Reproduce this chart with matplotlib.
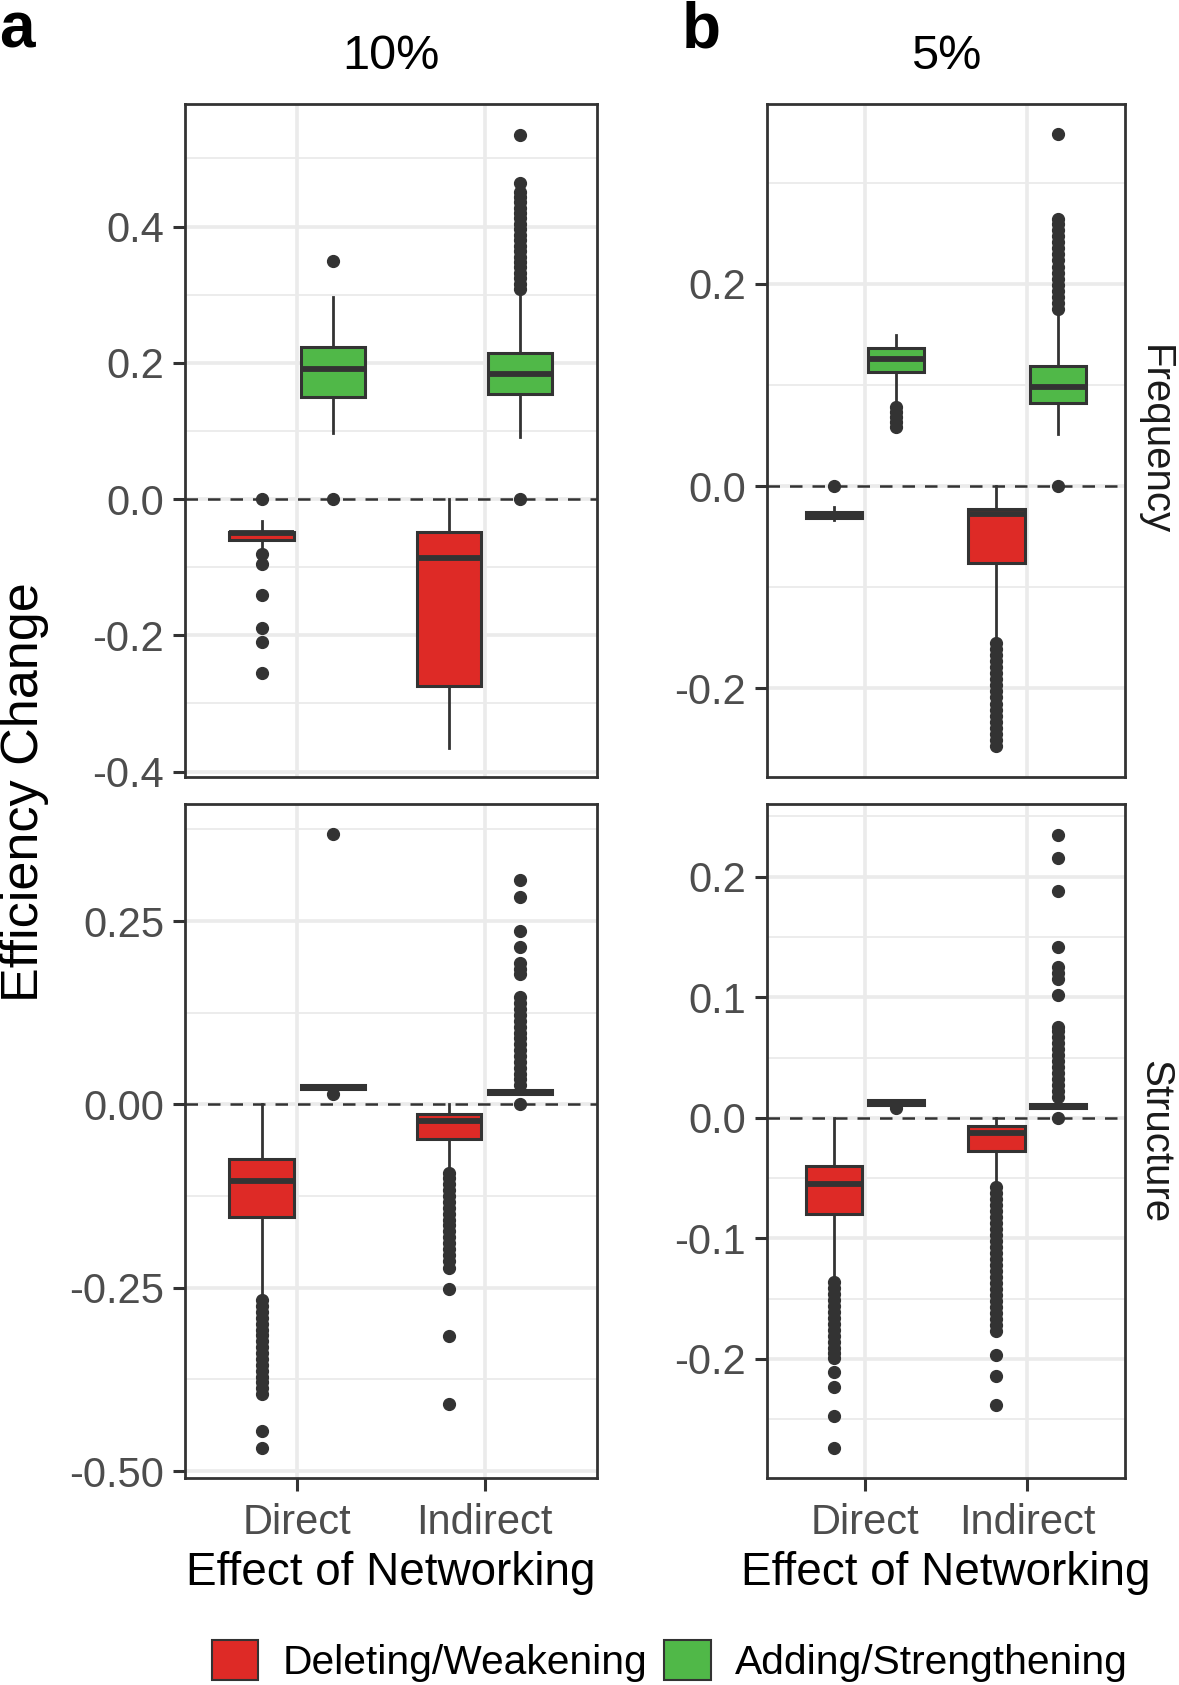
"""Efficiency change boxplots, networking effect by frequency / structure"""

import matplotlib
matplotlib.use("Agg")
import matplotlib.pyplot as plt
from matplotlib.patches import Patch


plt.rcParams['font.family'] = ['Liberation Sans', 'DejaVu Sans']

RED = "#DE2A26"
GREEN = "#50B848"
DARK = "#333333"

categories = ["Direct", "Indirect"]
groups = ["Deleting/Weakening", "Adding/Strengthening"]
col_titles = ["10%", "5%"]
row_titles = ["Frequency", "Structure"]

# order of boxes in each panel: Direct-Deleting, Direct-Adding, Indirect-Deleting, Indirect-Adding
# ---- panel a, Frequency (10%)
a_freq_q1 = [-0.0605, 0.150, -0.274, 0.154]
a_freq_med = [-0.0503, 0.191, -0.087, 0.183]
a_freq_q3 = [-0.0478, 0.223, -0.049, 0.2146]
a_freq_lo = [-0.072, 0.0975, -0.366, 0.091]
a_freq_hi = [-0.032, 0.296, 0.0, 0.298]
a_freq_out = [
    [0.0, -0.080, -0.0955, -0.141, -0.190, -0.2096, -0.255],
    [0.349, 0.0],
    [],
    [0.0, 0.308, 0.316, 0.324, 0.332, 0.340, 0.348, 0.356, 0.364, 0.372,
     0.380, 0.388, 0.396, 0.404, 0.412, 0.420, 0.428, 0.436, 0.444, 0.451,
     0.464, 0.535],
]

# ---- panel b, Frequency (5%)
b_freq_q1 = [-0.032, 0.113, -0.0764, 0.082]
b_freq_med = [-0.029, 0.126, -0.0279, 0.098]
b_freq_q3 = [-0.026, 0.1365, -0.0223, 0.119]
b_freq_lo = [-0.034, 0.083, -0.152, 0.0515]
b_freq_hi = [-0.0206, 0.149, 0.0, 0.170]
b_freq_out = [
    [0.0],
    [0.058, 0.063, 0.068, 0.073, 0.078],
    [-0.155, -0.161, -0.167, -0.173, -0.179, -0.185, -0.191, -0.197, -0.203,
     -0.209, -0.215, -0.221, -0.227, -0.233, -0.239, -0.245, -0.251, -0.257],
    [0.0, 0.175, 0.181, 0.187, 0.193, 0.199, 0.205, 0.211, 0.217, 0.223,
     0.229, 0.235, 0.241, 0.247, 0.253, 0.259, 0.264, 0.348],
]

# ---- panel a, Structure (10%)
a_str_q1 = [-0.153, 0.021, -0.0475, 0.0146]
a_str_med = [-0.105, 0.0237, -0.022, 0.0175]
a_str_q3 = [-0.0749, 0.027, -0.0128, 0.0195]
a_str_lo = [-0.265, 0.021, -0.091, 0.0146]
a_str_hi = [0.0, 0.027, 0.0, 0.0195]
a_str_out = [
    [-0.267, -0.275, -0.283, -0.291, -0.299, -0.307, -0.315, -0.323, -0.331,
     -0.339, -0.347, -0.355, -0.363, -0.371, -0.379, -0.387, -0.395,
     -0.445, -0.469],
    [0.0146, 0.368],
    [-0.093, -0.101, -0.109, -0.117, -0.125, -0.133, -0.141, -0.149, -0.157,
     -0.165, -0.173, -0.181, -0.189, -0.197, -0.205, -0.213, -0.223,
     -0.2515, -0.316, -0.408],
    [0.0, 0.026, 0.034, 0.042, 0.050, 0.058, 0.066, 0.074, 0.082, 0.090,
     0.098, 0.106, 0.114, 0.122, 0.130, 0.138, 0.147, 0.178, 0.184, 0.193,
     0.214, 0.236, 0.283, 0.306],
]

# ---- panel b, Structure (5%)
b_str_q1 = [-0.0796, 0.011, -0.0274, 0.008]
b_str_med = [-0.0548, 0.013, -0.0126, 0.010]
b_str_q3 = [-0.040, 0.0148, -0.0067, 0.0118]
b_str_lo = [-0.134, 0.011, -0.055, 0.008]
b_str_hi = [0.0, 0.0148, 0.0, 0.0118]
b_str_out = [
    [-0.136, -0.141, -0.146, -0.151, -0.156, -0.161, -0.166, -0.171, -0.176,
     -0.181, -0.186, -0.191, -0.195, -0.199, -0.211, -0.223, -0.247, -0.274],
    [0.0081],
    [-0.057, -0.062, -0.067, -0.072, -0.077, -0.082, -0.087, -0.092, -0.097,
     -0.102, -0.107, -0.112, -0.117, -0.122, -0.127, -0.132, -0.137, -0.142,
     -0.147, -0.152, -0.157, -0.162, -0.167, -0.172, -0.177, -0.197, -0.214,
     -0.238],
    [0.0, 0.017, 0.022, 0.027, 0.032, 0.037, 0.042, 0.047, 0.052, 0.057,
     0.062, 0.067, 0.072, 0.075, 0.102, 0.1155, 0.120, 0.125, 0.1415, 0.188,
     0.2156, 0.235],
]

# y axis setup of each panel: limits, major ticks, tick labels, minor gridlines
a_freq_ylim = (-0.408, 0.58)
a_freq_ticks = [-0.4, -0.2, 0.0, 0.2, 0.4]
a_freq_labels = ["-0.4", "-0.2", "0.0", "0.2", "0.4"]
a_freq_minor = [-0.3, -0.1, 0.1, 0.3, 0.5]

b_freq_ylim = (-0.2876, 0.3777)
b_freq_ticks = [-0.2, 0.0, 0.2]
b_freq_labels = ["-0.2", "0.0", "0.2"]
b_freq_minor = [-0.1, 0.1, 0.3]

a_str_ylim = (-0.509, 0.409)
a_str_ticks = [-0.5, -0.25, 0.0, 0.25]
a_str_labels = ["-0.50", "-0.25", "0.00", "0.25"]
a_str_minor = [-0.375, -0.125, 0.125, 0.375]

b_str_ylim = (-0.2985, 0.26)
b_str_ticks = [-0.2, -0.1, 0.0, 0.1, 0.2]
b_str_labels = ["-0.2", "-0.1", "0.0", "0.1", "0.2"]
b_str_minor = [-0.25, -0.15, -0.05, 0.05, 0.15, 0.25]


"""Draws one facet: four boxes (two per category), dashed zero line, grid"""
def drawPanel(ax, q1, med, q3, lo, hi, out, ylim, ticks, labels, minor, show_x):
    stats = []
    for i in range(4):
        stats.append(dict(q1=q1[i], med=med[i], q3=q3[i], whislo=lo[i],
                          whishi=hi[i], fliers=out[i]))
    offset = 0.19
    positions = [1 - offset, 1 + offset, 2 - offset, 2 + offset]
    bp = ax.bxp(stats, positions=positions, widths=0.345, patch_artist=True,
                showcaps=False, manage_ticks=False,
                boxprops=dict(edgecolor=DARK, linewidth=2.2),
                medianprops=dict(color=DARK, linewidth=4.2, solid_capstyle='butt'),
                whiskerprops=dict(color=DARK, linewidth=2.0),
                flierprops=dict(marker='o', markerfacecolor=DARK,
                                markeredgecolor=DARK, markersize=8.5))
    for i, box in enumerate(bp['boxes']):
        box.set_facecolor(RED if i % 2 == 0 else GREEN)
        box.set_zorder(3)
    for m in bp['medians']:
        m.set_zorder(4)

    ax.axhline(0, color=DARK, linestyle=(0, (5, 4)), linewidth=1.8, zorder=1.5)

    ax.set_xlim(0.4, 2.6)
    ax.set_ylim(*ylim)
    ax.set_xticks([1, 2])
    ax.set_yticks(ticks)
    ax.set_yticklabels(labels)
    ax.set_yticks(minor, minor=True)
    ax.grid(True, which='major', color='#EBEBEB', linewidth=2.6)
    ax.grid(True, which='minor', axis='y', color='#EBEBEB', linewidth=1.3)
    ax.set_axisbelow(True)
    ax.tick_params(axis='both', which='major', labelsize=30, labelcolor='#4D4D4D',
                   color=DARK, width=2.2, length=9, pad=6)
    ax.tick_params(axis='x', which='major', pad=9)
    ax.tick_params(axis='y', which='minor', length=0)
    if show_x:
        ax.set_xticklabels(categories)
    else:
        ax.set_xticklabels([])
        ax.tick_params(axis='x', which='major', length=0)
    for s in ax.spines.values():
        s.set_color(DARK)
        s.set_linewidth(2.0)
    return


fig = plt.figure(figsize=(11.79, 16.85), dpi=100)

ax_af = fig.add_axes([0.1569, 0.5389, 0.3494, 0.3994])
ax_bf = fig.add_axes([0.6506, 0.5389, 0.3036, 0.3994])
ax_as = fig.add_axes([0.1569, 0.1230, 0.3494, 0.3996])
ax_bs = fig.add_axes([0.6506, 0.1230, 0.3036, 0.3996])

drawPanel(ax_af, a_freq_q1, a_freq_med, a_freq_q3, a_freq_lo, a_freq_hi, a_freq_out,
          a_freq_ylim, a_freq_ticks, a_freq_labels, a_freq_minor, False)
drawPanel(ax_bf, b_freq_q1, b_freq_med, b_freq_q3, b_freq_lo, b_freq_hi, b_freq_out,
          b_freq_ylim, b_freq_ticks, b_freq_labels, b_freq_minor, False)
drawPanel(ax_as, a_str_q1, a_str_med, a_str_q3, a_str_lo, a_str_hi, a_str_out,
          a_str_ylim, a_str_ticks, a_str_labels, a_str_minor, True)
drawPanel(ax_bs, b_str_q1, b_str_med, b_str_q3, b_str_lo, b_str_hi, b_str_out,
          b_str_ylim, b_str_ticks, b_str_labels, b_str_minor, True)

# column titles and panel letters
ax_af.set_title(col_titles[0], fontsize=35, pad=25)
ax_bf.set_title(col_titles[1], fontsize=35, pad=25)
fig.text(0.0144, 0.982, "a", fontsize=46, fontweight='bold', ha='center', va='center')
fig.text(0.5946, 0.982, "b", fontsize=46, fontweight='bold', ha='center', va='center')

# facet strip labels on the right
fig.text(0.9797, 0.5389 + 0.3994 / 2, row_titles[0], fontsize=29, rotation=-90,
         ha='center', va='center', color='#1A1A1A')
fig.text(0.9797, 0.1230 + 0.3996 / 2, row_titles[1], fontsize=29, rotation=-90,
         ha='center', va='center', color='#1A1A1A')

fig.text(0.0204, 0.530, "Efficiency Change", fontsize=37.5, rotation=90,
         ha='center', va='center')
fig.text(0.3316, 0.0662, "Effect of Networking", fontsize=33, ha='center', va='center')
fig.text(0.8024, 0.0662, "Effect of Networking", fontsize=33, ha='center', va='center')

handles = [Patch(facecolor=RED, edgecolor=DARK, linewidth=1.5, label=groups[0]),
           Patch(facecolor=GREEN, edgecolor=DARK, linewidth=1.5, label=groups[1])]
fig.legend(handles=handles, loc='center', bbox_to_anchor=(0.568, 0.0145), ncol=2,
           frameon=False, fontsize=29.3, handlelength=1.15, handleheight=1.15,
           handletextpad=0.6, columnspacing=0.4, borderpad=0, borderaxespad=0)

fig.savefig("out.png", dpi=100)
